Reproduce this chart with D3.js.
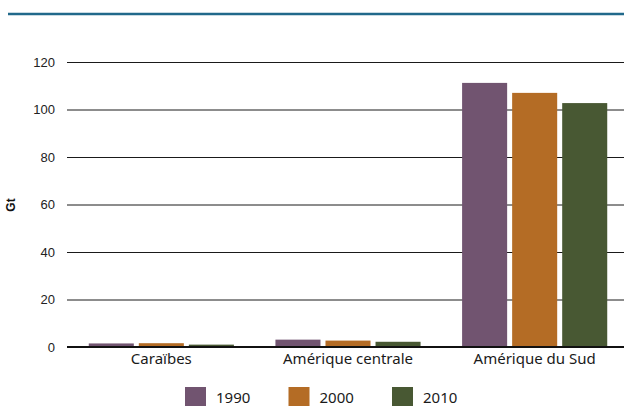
<!DOCTYPE html>
<html><head><meta charset="utf-8">
<script src="https://cdn.jsdelivr.net/npm/d3@7"></script>
<style>
html,body{margin:0;padding:0;background:#fff;}
svg{display:block;}
</style>
</head><body>
<svg id="chart" width="624" height="406"></svg>
<script>
const categories = ["Caraïbes", "Amérique centrale", "Amérique du Sud"];
const seriesNames = ["1990", "2000", "2010"];
const values1990 = [1.5, 3.1, 111.2];
const values2000 = [1.6, 2.7, 107.0];
const values2010 = [1.0, 2.2, 102.7];
const yTicks = [0, 20, 40, 60, 80, 100, 120];
const colors = ["#715470", "#b46c25", "#485833"];
const yLabel = "Gt";

const seriesValues = [values1990, values2000, values2010];
const svg = d3.select("#chart");

// top rule
svg.append("line").attr("x1", 8).attr("x2", 624).attr("y1", 14).attr("y2", 14)
  .attr("stroke", "#21698b").attr("stroke-width", 2.5);

const y = d3.scaleLinear().domain([0, 120]).range([347, 62]);
const x0 = d3.scaleBand().domain(categories).range([68, 628]).paddingInner(0).paddingOuter(0);
const x1 = d3.scaleBand().domain(seriesNames).range([0, x0.bandwidth()]).paddingInner(0.1).paddingOuter(0.415);

// gridlines + y axis labels
const yAxis = d3.axisLeft(y).tickValues(yTicks).tickSize(0).tickPadding(12);
const gy = svg.append("g").attr("transform", "translate(67,0)").call(yAxis);
gy.select(".domain").remove();
gy.selectAll("text").attr("font-family", "Liberation Sans, Arial, sans-serif").attr("font-size", 13).attr("fill", "#222");
gy.selectAll(".tick").append("line").attr("x1", 0).attr("x2", 624 - 67)
  .attr("stroke", d => d === 0 ? "none" : "#1a1a1a").attr("stroke-width", 1);

// bars
const groups = svg.append("g").selectAll("g").data(categories).join("g")
  .attr("transform", d => `translate(${x0(d)},0)`);
groups.selectAll("rect")
  .data((c, ci) => seriesNames.map((s, si) => ({s, si, v: seriesValues[si][ci]})))
  .join("rect")
  .attr("x", d => x1(d.s))
  .attr("width", x1.bandwidth())
  .attr("y", d => y(d.v))
  .attr("height", d => y(0) - y(d.v))
  .attr("fill", d => colors[d.si]);

// zero axis line
svg.append("line").attr("x1", 67).attr("x2", 624).attr("y1", y(0)).attr("y2", y(0))
  .attr("stroke", "#111").attr("stroke-width", 2.2);

// x axis labels
const xAxis = d3.axisBottom(x0).tickSize(0).tickPadding(0);
const gx = svg.append("g").attr("transform", "translate(0,353)").call(xAxis);
gx.select(".domain").remove();
gx.selectAll("text").attr("font-family", "Noto Sans, sans-serif").attr("font-size", 15)
  .attr("fill", "#1a1a1a").attr("dy", "0.71em");

// y label
svg.append("text").attr("transform", "translate(14.5,205) rotate(-90)")
  .attr("text-anchor", "middle").attr("font-family", "Liberation Sans, Arial, sans-serif")
  .attr("font-weight", "bold").attr("font-size", 12).attr("fill", "#111").text(yLabel);

// legend
const legend = svg.append("g").selectAll("g").data(seriesNames).join("g")
  .attr("transform", (d, i) => `translate(${185 + i * 103.5},387)`);
legend.append("rect").attr("width", 21).attr("height", 21).attr("fill", (d, i) => colors[i]);
legend.append("text").attr("x", 31).attr("y", 16).attr("font-family", "Noto Sans, sans-serif")
  .attr("font-size", 15).attr("fill", "#1a1a1a").text(d => d);
</script>
</body></html>
